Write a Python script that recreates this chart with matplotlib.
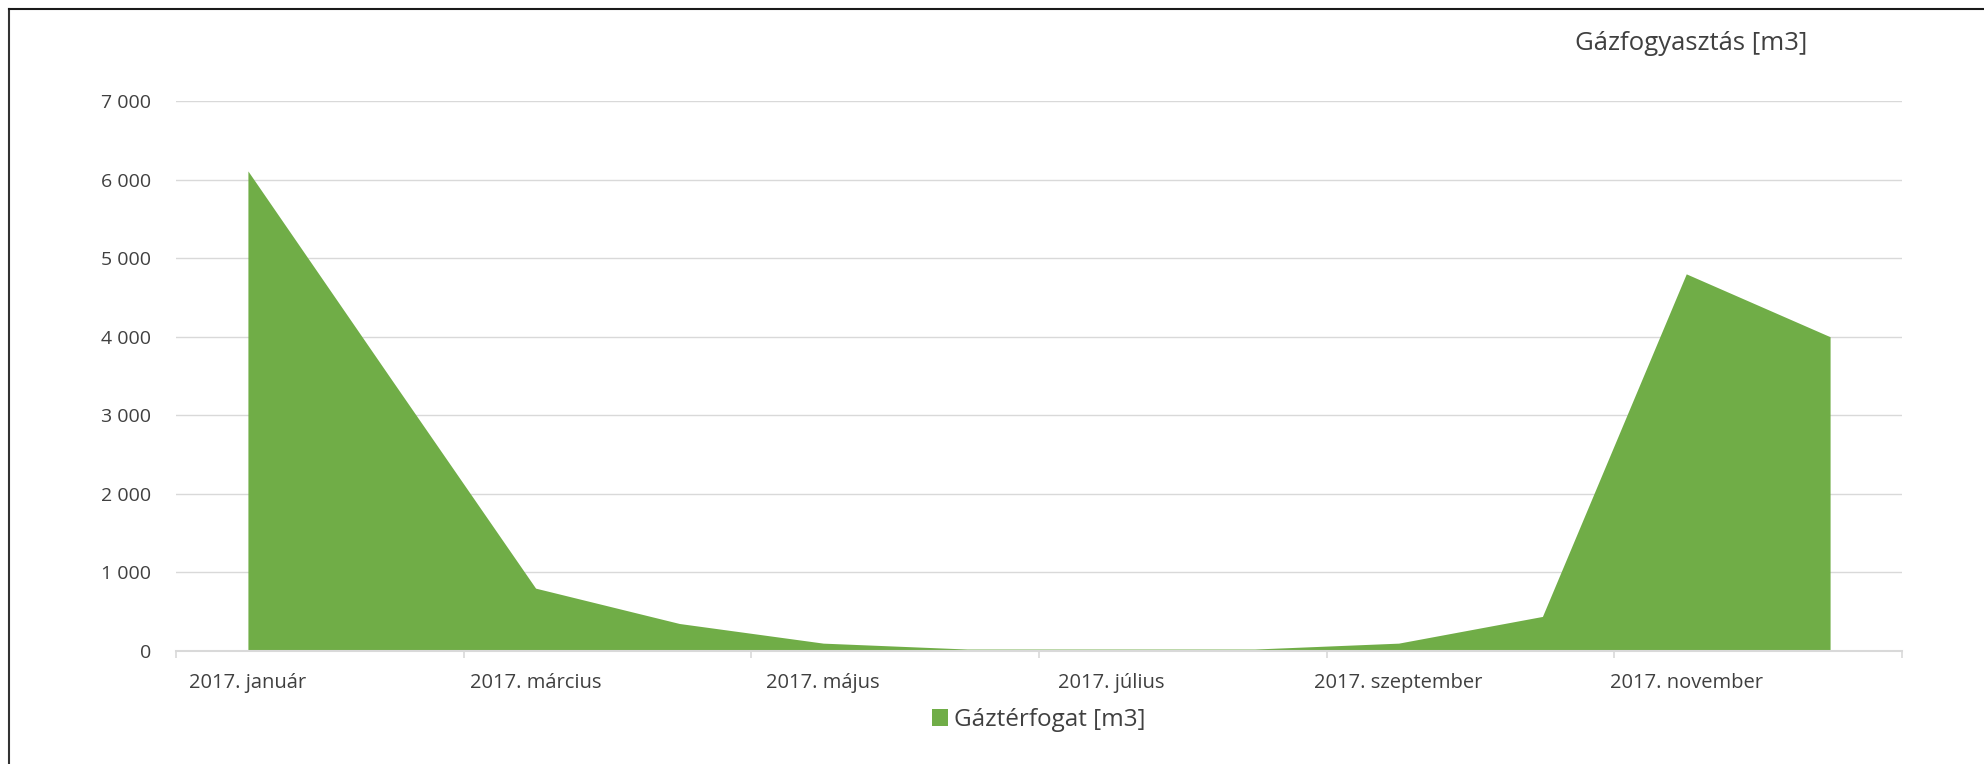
import matplotlib
matplotlib.use("Agg")
import matplotlib.pyplot as plt
from matplotlib.patches import Patch
from matplotlib.lines import Line2D
import numpy as np

# data
months = ['január', 'február', 'március', 'április', 'május', 'június',
          'július', 'augusztus', 'szeptember', 'október', 'november', 'december']
gas_m3 = [6110, 3450, 800, 350, 100, 25, 25, 25, 100, 440, 4800, 4000]
tick_labels = ['2017. ' + m for m in months[::2]]

title = 'Gázfogyasztás [m3]'
series_name = 'Gáztérfogat [m3]'

green = '#70AD47'
grid_grey = '#D9D9D9'
text_grey = '#404040'

plt.rcParams['font.family'] = ['Open Sans', 'DejaVu Sans']

W, H = 1984, 764
fig = plt.figure(figsize=(W / 100, H / 100), dpi=100)
ax = fig.add_axes([176 / W, 1 - 651 / H, (1902 - 176) / W, (651 - 101) / H])

x = np.arange(len(months)) + 0.5
ax.fill_between(x, 0, gas_m3, color=green, linewidth=0, zorder=3)

ax.set_xlim(0, len(months))
ax.set_ylim(0, 7000)

# y axis
ax.set_yticks(np.arange(0, 7001, 1000))
ax.set_yticklabels([f'{v:,}'.replace(',', ' ') for v in range(0, 7001, 1000)])
ax.yaxis.grid(True, color=grid_grey, linewidth=1.0, zorder=0)
ax.tick_params(axis='y', length=0, pad=18, labelsize=14, labelcolor=text_grey)

# x axis: tick marks at category boundaries, labels under every second month
ax.set_xticks(np.arange(0, len(months) + 1, 2))
ax.set_xticklabels([])
ax.set_xticks(x[::2], minor=True)
ax.set_xticklabels(tick_labels, minor=True)
ax.tick_params(axis='x', which='major', length=5, width=1.2, color=grid_grey)
ax.tick_params(axis='x', which='minor', length=0, pad=15.5, labelsize=14.5,
               labelcolor=text_grey)

for s in ('top', 'right', 'left'):
    ax.spines[s].set_visible(False)
ax.spines['bottom'].set_color(grid_grey)
ax.spines['bottom'].set_linewidth(1.5)
ax.spines['bottom'].set_zorder(4)

fig.text(1691 / W, 1 - 44 / H, title, ha='center', va='center',
         fontsize=18.5, color=text_grey)

fig.legend(handles=[Patch(facecolor=green, edgecolor='none', label=series_name)],
           loc='center', bbox_to_anchor=(1039 / W, 1 - 720 / H), frameon=False,
           handlelength=0.65, handleheight=0.65, handletextpad=0.25,
           fontsize=17.5, labelcolor=text_grey)

# outer frame: only left and top edges show in the reference
fig.add_artist(Line2D([9 / W, 9 / W], [0, 1 - 9 / H], transform=fig.transFigure,
                      color='#333333', linewidth=1.5))
fig.add_artist(Line2D([9 / W, 1], [1 - 9 / H, 1 - 9 / H], transform=fig.transFigure,
                      color='#1a1a1a', linewidth=1.5))

fig.savefig('out.png', dpi=100)
